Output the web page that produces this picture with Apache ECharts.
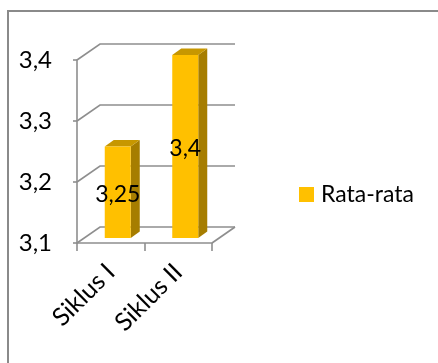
<!DOCTYPE html>
<html>
<head>
<meta charset="utf-8">
<title>Rata-rata per siklus</title>
<script src="https://cdn.jsdelivr.net/npm/echarts@6/dist/echarts.min.js"></script>
<style>
  html, body { margin: 0; padding: 0; background: #ffffff; }
  #chart { width: 438px; height: 363px; }
</style>
</head>
<body>
<div id="chart"></div>
<script>
// Chart data
const categories = ['Siklus I', 'Siklus II'];
const seriesName = 'Rata-rata';
const rataRata = [3.25, 3.4];
const yTicks = [3.1, 3.2, 3.3, 3.4];

// Pseudo-3D depth of the plot box and of the columns (pixels)
const DEPTH_X = 23, DEPTH_Y = -16;
const BAR_W = 26, BAR_DX = 9, BAR_DY = -6.5;
const BAR_OFF_X = 7, BAR_OFF_Y = -5;

const FONT = 'Lato, "Open Sans", sans-serif';
const GRID_COLOR = '#8e8e8e';
const comma = v => String(v).replace('.', ',');

const chart = echarts.init(document.getElementById('chart'), null, { renderer: 'canvas' });

// Back wall grid lines, left-wall diagonals and floor edge
function renderWalls(params, api) {
  const cs = params.coordSys;
  const v = api.value(0);
  const y = api.coord([0, v])[1];
  const L = cs.x, R = cs.x + cs.width;
  const children = [{
    type: 'polyline',
    shape: { points: [[L, y], [L + DEPTH_X, y + DEPTH_Y], [R + DEPTH_X, y + DEPTH_Y]] },
    style: { stroke: GRID_COLOR, lineWidth: 1.6, fill: null }
  }];
  if (v === yTicks[0]) {
    children.push({
      type: 'line',
      shape: { x1: R, y1: y, x2: R + DEPTH_X, y2: y + DEPTH_Y },
      style: { stroke: GRID_COLOR, lineWidth: 1.6 }
    });
  }
  return { type: 'group', children };
}

// Columns drawn as front, side and top faces
function renderBars(params, api) {
  const idx = api.value(0);
  const val = api.value(1);
  const base = api.coord([idx, yTicks[0]]);
  const top = api.coord([idx, val]);
  const xl = base[0] - BAR_W / 2 + BAR_OFF_X;
  const xr = xl + BAR_W;
  const yb = base[1] + BAR_OFF_Y;
  const yt = top[1] + BAR_OFF_Y;
  return {
    type: 'group',
    children: [
      {
        type: 'polygon',
        shape: { points: [[xr, yt], [xr + BAR_DX, yt + BAR_DY], [xr + BAR_DX, yb + BAR_DY], [xr, yb]] },
        style: { fill: '#A67D00' }
      },
      {
        type: 'polygon',
        shape: { points: [[xl, yt], [xr, yt], [xr + BAR_DX, yt + BAR_DY], [xl + BAR_DX, yt + BAR_DY]] },
        style: { fill: '#C79700' }
      },
      {
        type: 'rect',
        shape: { x: xl, y: yt, width: BAR_W, height: yb - yt },
        style: { fill: '#FFC000' }
      },
      {
        type: 'text',
        x: (xl + xr) / 2,
        y: (yt + yb) / 2 + 2,
        style: {
          text: comma(val),
          fill: '#000000',
          font: '23px ' + FONT,
          align: 'center',
          verticalAlign: 'middle'
        },
        z2: 10
      }
    ]
  };
}

const option = {
  animation: false,
  backgroundColor: '#ffffff',
  graphic: [{
    type: 'rect',
    silent: true,
    shape: { x: 8, y: 11, width: 600, height: 600 },
    style: { fill: null, stroke: '#8a8a8a', lineWidth: 2 }
  }],
  legend: {
    data: [seriesName],
    left: 294,
    top: 178,
    icon: 'rect',
    itemWidth: 15,
    itemHeight: 15,
    textStyle: { fontFamily: FONT, fontSize: 23, color: '#000000', padding: [0, 0, 0, 2] }
  },
  grid: { left: 77, top: 60, width: 135, height: 183 },
  xAxis: {
    type: 'category',
    data: categories,
    boundaryGap: true,
    axisLine: { show: true, lineStyle: { color: GRID_COLOR, width: 1.6 } },
    axisTick: { show: true, length: 8, lineStyle: { color: GRID_COLOR, width: 1.6 } },
    axisLabel: {
      rotate: 45,
      margin: 25,
      color: '#000000',
      fontFamily: FONT,
      fontSize: 25
    },
    splitLine: { show: false }
  },
  yAxis: {
    type: 'value',
    min: 3.1,
    max: 3.4,
    interval: 0.1,
    axisLine: { show: true, lineStyle: { color: GRID_COLOR, width: 1.6 } },
    axisTick: { show: true, length: 4, lineStyle: { color: GRID_COLOR, width: 1.6 } },
    axisLabel: {
      margin: 25,
      color: '#000000',
      fontFamily: FONT,
      fontSize: 24,
      formatter: v => comma(v.toFixed(1))
    },
    splitLine: { show: false }
  },
  series: [
    {
      type: 'custom',
      name: 'walls',
      silent: true,
      z: 1,
      renderItem: renderWalls,
      data: yTicks.map(v => [v]),
      encode: { x: -1, y: 0 }
    },
    {
      type: 'custom',
      name: seriesName,
      z: 5,
      itemStyle: { color: '#FFC000' },
      renderItem: renderBars,
      data: rataRata.map((v, i) => [i, v]),
      encode: { x: 0, y: 1 }
    }
  ]
};

chart.setOption(option);
</script>
</body>
</html>
